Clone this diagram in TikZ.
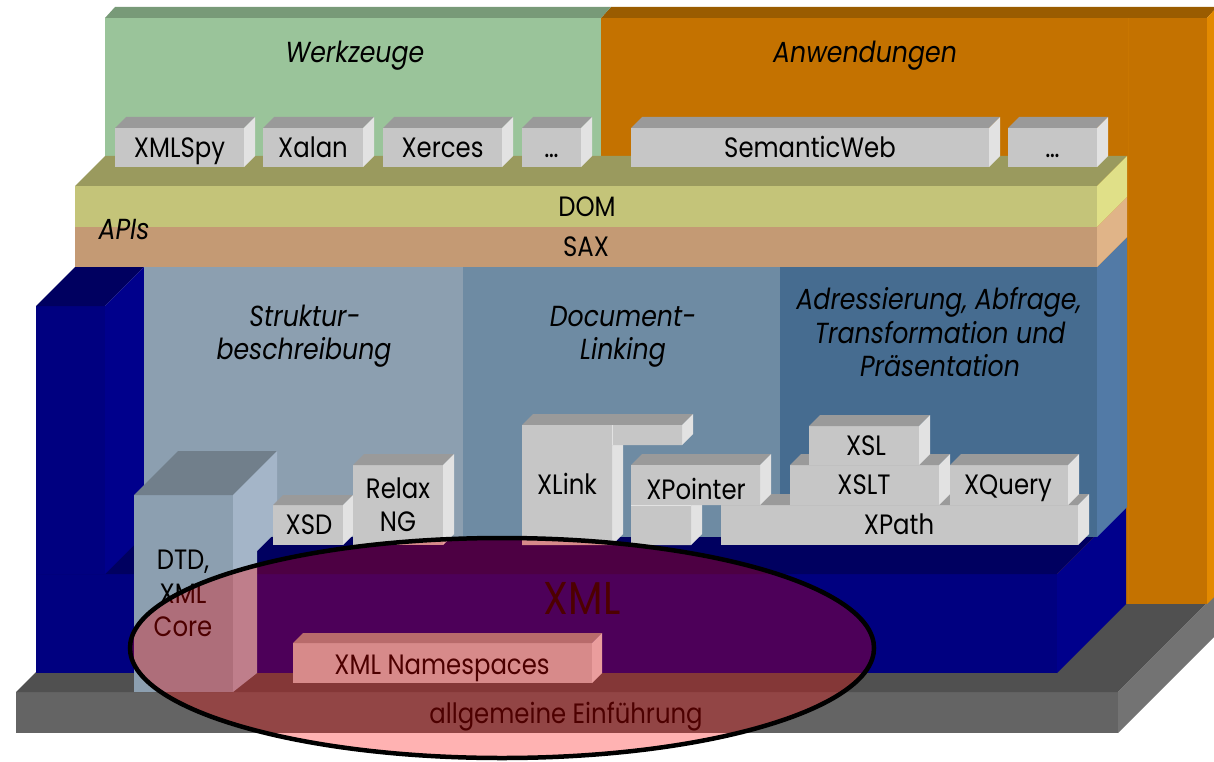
\documentclass[tikz,border=0pt]{standalone}
\usepackage{fontspec}
\setmainfont{Poppins}[FakeStretch=0.87]
\definecolor{grF}{HTML}{9AC49A}
\definecolor{grT}{HTML}{789A78}
\definecolor{orF}{HTML}{C47200}
\definecolor{orT}{HTML}{9A5C00}
\definecolor{orS}{HTML}{E38A00}
\definecolor{domF}{HTML}{C4C479}
\definecolor{domT}{HTML}{9A9A5E}
\definecolor{domS}{HTML}{E0E088}
\definecolor{saxF}{HTML}{C49A74}
\definecolor{saxS}{HTML}{E0B488}
\definecolor{pA}{HTML}{8C9FB0}
\definecolor{pB}{HTML}{6E8BA3}
\definecolor{pC}{HTML}{466C90}
\definecolor{pS}{HTML}{527AA6}
\definecolor{nvF}{HTML}{000080}
\definecolor{nvT}{HTML}{000060}
\definecolor{nvS}{HTML}{00008C}
\definecolor{bxF}{HTML}{C6C6C6}
\definecolor{bxT}{HTML}{9A9A9A}
\definecolor{bxS}{HTML}{E2E2E2}
\definecolor{bsF}{HTML}{646464}
\definecolor{bsT}{HTML}{505050}
\definecolor{bsS}{HTML}{737373}
\definecolor{dtF}{HTML}{8C9FB0}
\definecolor{dtT}{HTML}{717F8B}
\definecolor{dtS}{HTML}{A4B5C8}
\newcommand\myblock[8]{%
  \fill[#6] (#1,#2) rectangle (#3,#4);
  \fill[#7] (#1,#2) -- ({#1+#5},{#2-#5}) -- ({#3+#5},{#2-#5}) -- (#3,#2) -- cycle;
  \fill[#8] (#3,#2) -- ({#3+#5},{#2-#5}) -- ({#3+#5},{#4-#5}) -- (#3,#4) -- cycle;}
\newcommand\gbox[5]{\myblock{#1}{#2}{#3}{#4}{#5}{bxF}{bxT}{bxS}}
\tikzset{
  lab/.style={font=\fontsize{28}{32}\selectfont, inner sep=0pt, anchor=base},
  ttl/.style={font=\fontsize{29}{33}\selectfont\itshape, inner sep=0pt, anchor=base},
  big/.style={font=\fontsize{46}{50}\selectfont, inner sep=0pt, anchor=base}
}
\begin{document}
\begin{tikzpicture}[x=1pt,y=-1pt]
\useasboundingbox (0,0) rectangle (1214,762);
\clip (0,0) rectangle (1214,762);
% base
\myblock{16}{692}{1118}{733}{100}{bsF}{bsT}{bsS}
% orange Anwendungen
\fill[orF] (601,18) rectangle (1207,604);
\fill[orT] (601,18) -- (611,7) -- (1217,7) -- (1207,18) -- cycle;
\fill[orS] (1207,18) -- (1217,7) -- (1217,594) -- (1207,604) -- cycle;
\draw[orF!85!orS, line width=1pt] (1128,18) -- (1128,604);
% green Werkzeuge
\fill[grF] (105,18) rectangle (601,160);
\fill[grT] (105,18) -- (115,7) -- (611,7) -- (601,18) -- cycle;
% navy XML block
\myblock{36}{574}{1057}{673}{69}{nvF}{nvT}{nvS}
% left column
\myblock{36}{306}{105}{574}{39}{nvF}{nvT}{nvS}
% panels
\fill[pA] (144,267) rectangle (463,537);
\fill[pB] (463,267) rectangle (780,537);
\fill[pC] (780,267) rectangle (1097,537);
\fill[pS] (1097,267) -- (1127,237) -- (1127,507) -- (1097,537) -- cycle;
% DOM / SAX
\fill[domT] (75,186) -- (105,156) -- (1127,156) -- (1097,186) -- cycle;
\fill[domF] (75,186) rectangle (1097,227);
\fill[saxF] (75,227) rectangle (1097,267);
\fill[domS] (1097,186) -- (1127,156) -- (1127,197) -- (1097,227) -- cycle;
\fill[saxS] (1097,227) -- (1127,197) -- (1127,237) -- (1097,267) -- cycle;
% tool boxes
\gbox{115}{128}{244}{167}{11}
\gbox{263}{128}{363}{167}{11}
\gbox{383}{128}{502}{167}{11}
\gbox{522}{128}{581}{167}{11}
\gbox{631}{128}{989}{167}{11}
\gbox{1008}{128}{1097}{167}{11}
% DTD box
\fill[dtF] (134,495) rectangle (233,692);
\fill[dtT] (134,495) -- (178,451) -- (277,451) -- (233,495) -- cycle;
\fill[dtS] (233,495) -- (277,451) -- (277,531) -- (257,551) -- (257,673) -- (233,692) -- cycle;
% Struktur boxes
\gbox{273}{505}{343}{545}{10}
\gbox{353}{465}{443}{545}{11}
% XPath group
\gbox{721}{505}{1078}{545}{11}
\gbox{790}{465}{939}{505}{11}
\gbox{950}{465}{1068}{505}{11}
\gbox{809}{426}{919}{465}{11}
% XLink (L shape)
\fill[bxT] (522,425) -- (533,414) -- (693,414) -- (682,425) -- cycle;
\fill[bxS] (682,425) -- (693,414) -- (693,434) -- (682,445) -- cycle;
\fill[bxS] (612,445) -- (623,445) -- (623,534) -- (612,545) -- cycle;
\fill[bxF] (522,425) -- (682,425) -- (682,445) -- (612,445) -- (612,545) -- (522,545) -- cycle;
\draw[bxS, line width=0.8pt] (612,425) -- (612,445);
% XPointer (inverted L)
\fill[bxT] (631,465) -- (642,454) -- (771,454) -- (760,465) -- cycle;
\fill[bxS] (760,465) -- (771,454) -- (771,494) -- (760,505) -- cycle;
\fill[bxS] (691,505) -- (702,505) -- (702,534) -- (691,545) -- cycle;
\fill[bxF] (631,465) -- (760,465) -- (760,505) -- (691,505) -- (691,545) -- (631,545) -- cycle;
\draw[bxS, line width=0.8pt] (631,505) -- (691,505);
% XML Namespaces
\gbox{293}{643}{592}{683}{10}
% texts
\node[ttl] (tWerk) at (355,63) {Werkzeuge};
\node[ttl] (tAnw) at (865,63) {Anwendungen};
\node[lab] (tSpy) at (179.5,158) {XMLSpy};
\node[lab] (tXalan) at (313,158) {Xalan};
\node[lab] (tXerces) at (442.5,158) {Xerces};
\node[lab] (tDots1) at (551.5,158) {\dots};
\node[lab] (tSem) at (810,158) {SemanticWeb};
\node[lab] (tDots2) at (1052.5,158) {\dots};
\node[lab] (tDOM) at (587,216) {DOM};
\node[lab] (tSAX) at (586,256) {SAX};
\node[ttl] (tAPI) at (124,239) {APIs};
\node[ttl] (tS1) at (305,326) {Struktur-};
\node[ttl] (tS2) at (304,359) {beschreibung};
\node[ttl] (tD1) at (623,326) {Document-};
\node[ttl] (tD2) at (623,359) {Linking};
\node[ttl] (tA1) at (939,309) {Adressierung, Abfrage,};
\node[ttl] (tA2) at (940,343) {Transformation und};
\node[ttl] (tA3) at (940,376) {Präsentation};
\node[lab] (tXSD) at (309,534) {XSD};
\node[lab] (tRelax) at (398,498) {Relax};
\node[lab] (tNG) at (398,531) {NG};
\node[lab] (tXLink) at (567,494) {XLink};
\node[lab] (tXPointer) at (696,499) {XPointer};
\node[lab] (tXSL) at (866,455) {XSL};
\node[lab] (tXSLT) at (864,494) {XSLT};
\node[lab] (tXQuery) at (1008,494) {XQuery};
\node[lab] (tXPath) at (899,534) {XPath};
\node[lab] (tDTD1) at (183,569) {DTD,};
\node[lab] (tDTD2) at (183,603) {XML};
\node[lab] (tDTD3) at (183,636) {Core};
\node[big] (tXML) at (582,614) {XML};
\node[lab] (tNS) at (442,674) {XML Namespaces};
\node[lab] (tAllg) at (566,723) {allgemeine Einführung};
% overlay ellipse
\draw[line width=4.5pt, fill=red, fill opacity=0.3] (502,648) ellipse [x radius=372, y radius=110];
\end{tikzpicture}
\end{document}
